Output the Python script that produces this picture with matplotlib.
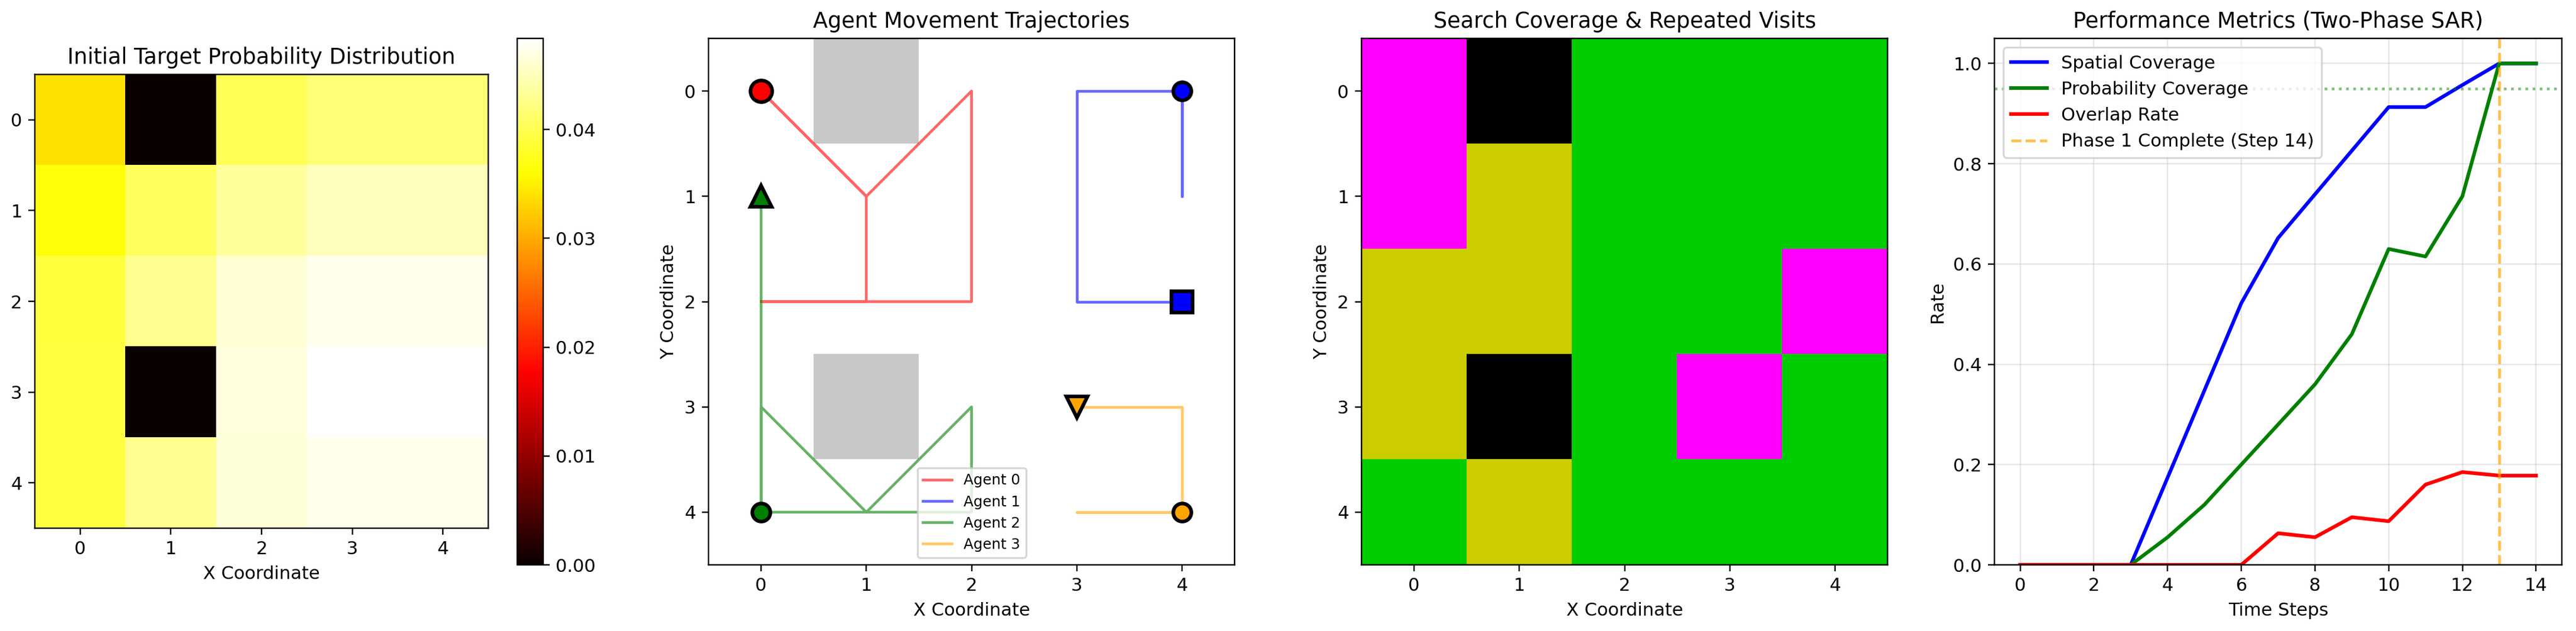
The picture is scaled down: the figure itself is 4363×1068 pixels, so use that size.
"""Two-phase search-and-rescue summary: priors, trajectories, coverage, metrics."""
import matplotlib
matplotlib.use("Agg")
import matplotlib.pyplot as plt
import numpy as np
from matplotlib.colors import ListedColormap

W, H, DPI = 4363, 1068, 220

prob_map = [
    [0.0339, 0.0000, 0.0402, 0.0416, 0.0416],
    [0.0366, 0.0405, 0.0436, 0.0450, 0.0450],
    [0.0390, 0.0430, 0.0462, 0.0473, 0.0473],
    [0.0392, 0.0000, 0.0466, 0.0483, 0.0483],
    [0.0392, 0.0430, 0.0463, 0.0473, 0.0473],
]
prob_vmax = 0.04836

obstacles = [
    [0, 1, 0, 0, 0],
    [0, 0, 0, 0, 0],
    [0, 0, 0, 0, 0],
    [0, 1, 0, 0, 0],
    [0, 0, 0, 0, 0],
]

agent_names = ["Agent 0", "Agent 1", "Agent 2", "Agent 3"]
agent_colors = ["red", "blue", "green", "orange"]
agent_markers = ["o", "s", "^", "v"]
agent_x = [
    [0, 1, 1, 0, 1, 2, 2, 1, 0],
    [4, 4, 4, 3, 3, 4],
    [0, 1, 2, 2, 1, 0, 0, 0, 0],
    [4, 3, 4, 4, 3],
]
agent_y = [
    [0, 1, 2, 2, 2, 2, 0, 1, 0],
    [0, 1, 0, 0, 2, 2],
    [4, 4, 4, 3, 4, 3, 4, 3, 1],
    [4, 4, 4, 3, 3],
]

# 0 obstacle, 1 single visit, 2 two visits, 3 three or more
visits = [
    [3, 0, 1, 1, 1],
    [3, 2, 1, 1, 1],
    [2, 2, 1, 1, 3],
    [2, 0, 1, 3, 1],
    [1, 2, 1, 1, 1],
]
visit_colors = ["#000000", "#00cc00", "#cccc00", "#ff00ff"]

steps = list(range(15))
spatial = [0, 0, 0, 0, 0.174, 0.348, 0.522, 0.652, 0.739, 0.826, 0.913, 0.913, 0.957, 1.0, 1.0]
probability = [0, 0, 0, 0, 0.055, 0.12, 0.2, 0.28, 0.36, 0.46, 0.63, 0.615, 0.735, 1.0, 1.0]
overlap = [0, 0, 0, 0, 0, 0, 0, 0.063, 0.055, 0.095, 0.087, 0.16, 0.185, 0.178, 0.178]
target_line = 0.95
phase_step = 13


def box(x0, x1, y0=65, y1=956):
    """Axes rectangle from reference pixel edges."""
    return [x0 / W, 1 - y1 / H, (x1 - x0) / W, (y1 - y0) / H]


fig = plt.figure(figsize=(W / DPI, H / DPI), dpi=DPI)

# heat map
ax1 = fig.add_axes(box(59, 827, 126, 894))
im = ax1.imshow(prob_map, cmap="hot", vmin=0, vmax=prob_vmax)
ax1.set_title("Initial Target Probability Distribution")
ax1.set_xlabel("X Coordinate")
cax = fig.add_axes(box(876, 920))
fig.colorbar(im, cax=cax, ticks=[0, 0.01, 0.02, 0.03, 0.04])

# trajectories
ax2 = fig.add_axes(box(1200, 2091))
ax2.imshow(np.ma.masked_equal(obstacles, 0), cmap=ListedColormap(["#c8c8c8"]), aspect="auto")
for i, name in enumerate(agent_names):
    ax2.plot(agent_x[i], agent_y[i], color=agent_colors[i], alpha=0.6, lw=1.5, label=name)
    ax2.plot(agent_x[i][0], agent_y[i][0], "o", color=agent_colors[i], ms=10, mec="black", mew=2)
    ax2.plot(agent_x[i][-1], agent_y[i][-1], agent_markers[i], color=agent_colors[i], ms=12, mec="black", mew=2)
ax2.set_xlim(-0.5, 4.5)
ax2.set_ylim(4.5, -0.5)
ax2.set_title("Agent Movement Trajectories")
ax2.set_xlabel("X Coordinate")
ax2.set_ylabel("Y Coordinate")
ax2.legend(loc="lower center", fontsize=8)

# coverage
ax3 = fig.add_axes(box(2306, 3197))
ax3.imshow(visits, cmap=ListedColormap(visit_colors), vmin=0, vmax=3, aspect="auto")
ax3.set_title("Search Coverage & Repeated Visits")
ax3.set_xlabel("X Coordinate")
ax3.set_ylabel("Y Coordinate")

# metrics
ax4 = fig.add_axes(box(3378, 4339))
ax4.plot(steps, spatial, color="blue", lw=2, label="Spatial Coverage")
ax4.plot(steps, probability, color="green", lw=2, label="Probability Coverage")
ax4.plot(steps, overlap, color="red", lw=2, label="Overlap Rate")
ax4.axvline(phase_step, color="orange", ls="--", alpha=0.7, lw=1.5, label="Phase 1 Complete (Step 14)")
ax4.axhline(target_line, color="green", ls=":", alpha=0.5)
ax4.set_ylim(0, 1.05)
ax4.set_title("Performance Metrics (Two-Phase SAR)")
ax4.set_xlabel("Time Steps")
ax4.set_ylabel("Rate")
ax4.grid(True, alpha=0.3)
ax4.legend(loc="upper left")

fig.savefig("out.png", dpi=DPI)
plt.close(fig)
